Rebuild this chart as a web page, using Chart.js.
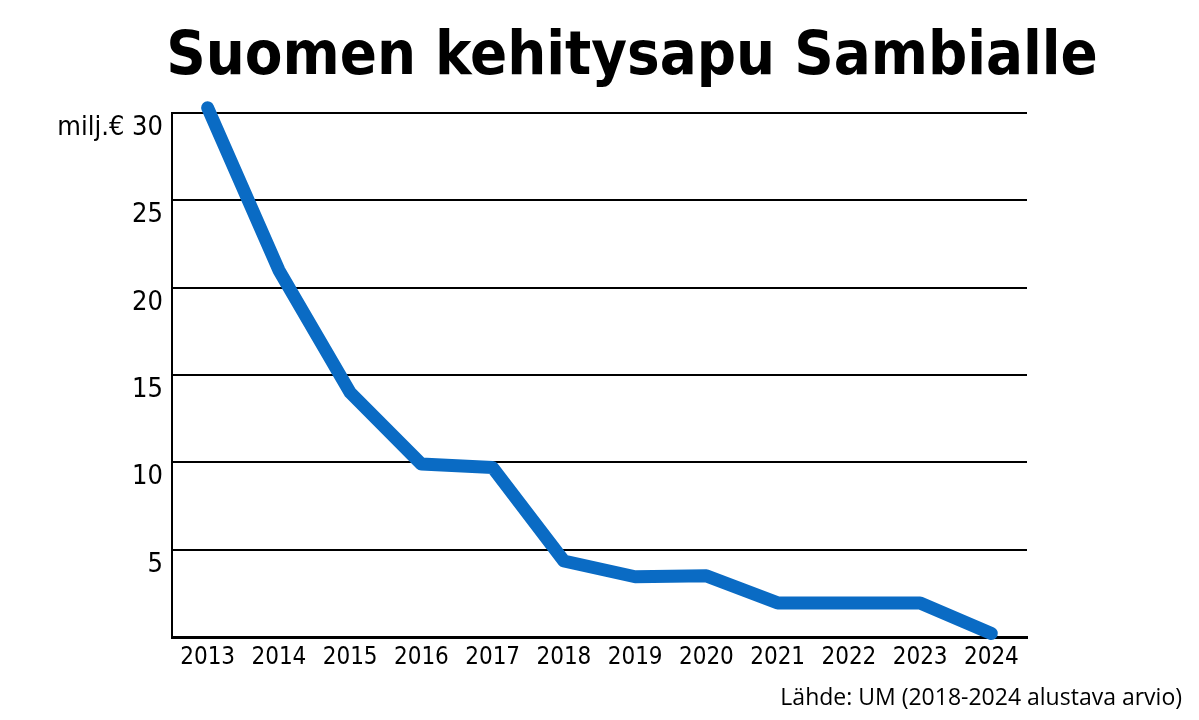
<!DOCTYPE html>
<html>
<head>
<meta charset="utf-8">
<script src="https://cdn.jsdelivr.net/npm/chart.js@4.4.1/dist/chart.umd.min.js"></script>
<style>
  html, body { margin: 0; padding: 0; background: #ffffff; }
  #wrap { width: 1199px; height: 720px; }
</style>
</head>
<body>
<div id="wrap"><canvas id="c" width="1199" height="720"></canvas></div>
<script>
const titleText = 'Suomen kehitysapu Sambialle';
const sourceText = 'Lähde: UM (2018-2024 alustava arvio)';
const unitLabel = 'milj.€';
const years = ['2013','2014','2015','2016','2017','2018','2019','2020','2021','2022','2023','2024'];
const aid = [30.3, 21.0, 14.0, 9.9, 9.7, 4.35, 3.45, 3.5, 1.95, 1.95, 1.95, 0.2];
const yTicks = [5, 10, 15, 20, 25, 30];

const narrow = "'DejaVu Sans Condensed', 'DejaVu Sans', sans-serif";

// centre the title over the span used in the reference (x 82..1182)
const titleSpan = {
  id: 'titleSpan',
  afterLayout(chart) {
    const t = chart.titleBlock;
    if (t) { t.left = 82; t.right = 1182; t.width = 1100; }
  }
};

new Chart(document.getElementById('c'), {
  type: 'line',
  data: {
    labels: years,
    datasets: [{
      data: aid,
      borderColor: '#0a6bc4',
      borderWidth: 13,
      borderCapStyle: 'round',
      borderJoinStyle: 'round',
      pointRadius: 0,
      pointHoverRadius: 0,
      tension: 0,
      fill: false,
      clip: false
    }]
  },
  plugins: [titleSpan],
  options: {
    responsive: false,
    animation: false,
    devicePixelRatio: 1,
    layout: { padding: { left: 0, right: 17, top: 0, bottom: 0 } },
    plugins: {
      legend: { display: false },
      tooltip: { enabled: false },
      title: {
        display: true,
        text: titleText,
        color: '#000000',
        font: { family: narrow, size: 61, weight: 'bold', lineHeight: 1 },
        padding: { top: 28, bottom: 24 }
      },
      subtitle: {
        display: true,
        text: sourceText,
        position: 'bottom',
        align: 'end',
        color: '#000000',
        font: { family: "'Open Sans', sans-serif", size: 23, lineHeight: 1.2 },
        padding: { top: 6.6, bottom: 8 }
      }
    },
    scales: {
      x: {
        type: 'category',
        offset: true,
        grid: { display: false, drawTicks: false },
        border: { display: true, color: '#000000', width: 3 },
        ticks: {
          color: '#000000',
          padding: 6,
          maxRotation: 0,
          autoSkip: false,
          font: { family: narrow, size: 24, lineHeight: 1.2 }
        }
      },
      y: {
        min: 0,
        max: 30,
        afterBuildTicks: (s) => { s.ticks = [0].concat(yTicks).map(v => ({ value: v })); },
        afterFit: (s) => { s.width = 172; },
        grid: { color: '#000000', lineWidth: 2, drawTicks: false },
        border: { display: true, color: '#000000', width: 2 },
        ticks: {
          color: '#000000',
          padding: 9,
          labelOffset: 15,
          font: { family: narrow, size: 27 },
          callback: (v) => v === 0 ? '' : (v === 30 ? unitLabel + ' ' + v : String(v))
        }
      },
      yRight: {
        position: 'right',
        display: true,
        min: 0,
        max: 30,
        grid: { display: false, drawTicks: false },
        border: { display: false },
        ticks: { display: false },
        afterFit: (s) => { s.width = 155; }
      }
    }
  }
});
</script>
</body>
</html>
